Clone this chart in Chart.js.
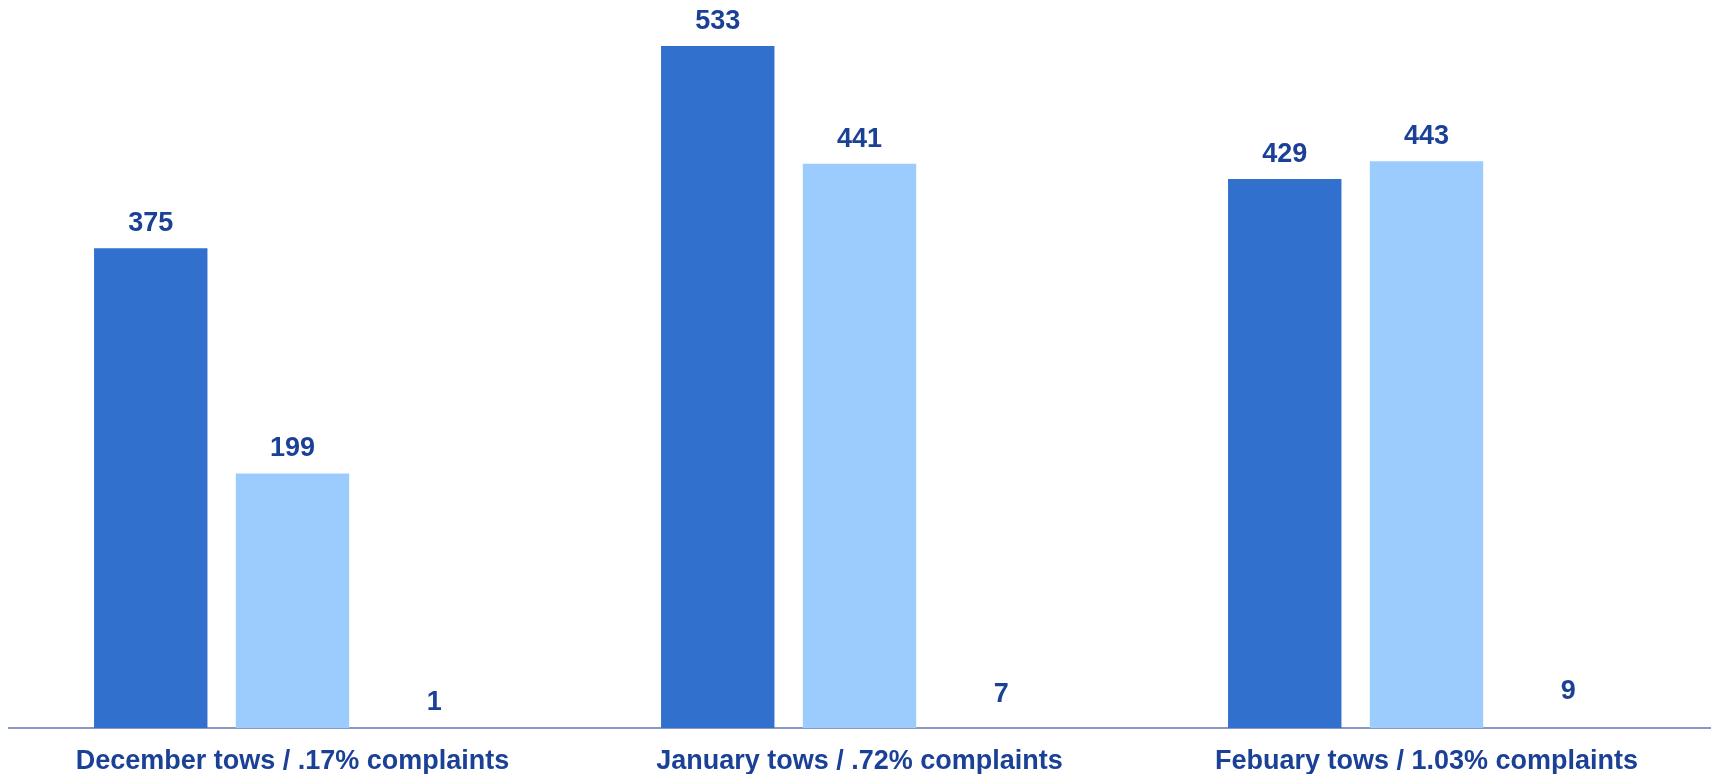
<!DOCTYPE html>
<html>
<head>
<meta charset="utf-8">
<script src="https://cdn.jsdelivr.net/npm/chart.js@4/dist/chart.umd.min.js"></script>
<style>
    html, body { margin: 0; padding: 0; background: #ffffff; }
    #wrap { width: 1714px; height: 777px; position: relative; }
</style>
</head>
<body>
<div id="wrap"><canvas id="towChart"></canvas></div>
<script>
// Categories (month / complaint rate)
const categories = [
    'December tows / .17% complaints',
    'January tows / .72% complaints',
    'Febuary tows / 1.03% complaints'
];

// Series values
const seriesA = [375, 533, 429];
const seriesB = [199, 441, 443];
const seriesC = [1, 7, 9];

const labelBlue = '#1b4196';
const fontFamily = '"Liberation Sans", Arial, Helvetica, sans-serif';

// Draws the value above each bar
const valueLabels = {
    id: 'valueLabels',
    afterDatasetsDraw(chart) {
        const ctx = chart.ctx;
        ctx.save();
        ctx.font = 'bold 27px ' + fontFamily;
        ctx.fillStyle = labelBlue;
        ctx.textAlign = 'center';
        ctx.textBaseline = 'alphabetic';
        chart.data.datasets.forEach(function (ds, i) {
            const meta = chart.getDatasetMeta(i);
            meta.data.forEach(function (bar, j) {
                ctx.fillText(String(ds.data[j]), bar.x, bar.y - 17);
            });
        });
        ctx.restore();
    }
};

const ctx = document.getElementById('towChart').getContext('2d');
new Chart(ctx, {
    type: 'bar',
    data: {
        labels: categories,
        datasets: [
            { label: 'Tows A', data: seriesA, backgroundColor: '#3170cc' },
            { label: 'Tows B', data: seriesB, backgroundColor: '#9ccbfd' },
            { label: 'Complaints', data: seriesC, backgroundColor: 'rgba(255,255,255,0)' }
        ]
    },
    options: {
        responsive: true,
        maintainAspectRatio: false,
        animation: false,
        categoryPercentage: 0.75,
        barPercentage: 0.8,
        layout: { padding: { left: 9, right: 4, top: 0, bottom: 3 } },
        plugins: {
            legend: { display: false },
            tooltip: { enabled: false }
        },
        scales: {
            x: {
                grid: { display: false, drawTicks: false },
                border: { display: true, color: '#8c96c4', width: 2 },
                ticks: {
                    color: labelBlue,
                    padding: 17,
                    maxRotation: 0,
                    font: { family: fontFamily, size: 27, weight: 'bold' }
                },
                afterFit: function (scale) {
                    scale.height = 46;
                }
            },
            y: {
                display: false,
                min: 0,
                max: 569
            }
        }
    },
    plugins: [valueLabels]
});
</script>
</body>
</html>
